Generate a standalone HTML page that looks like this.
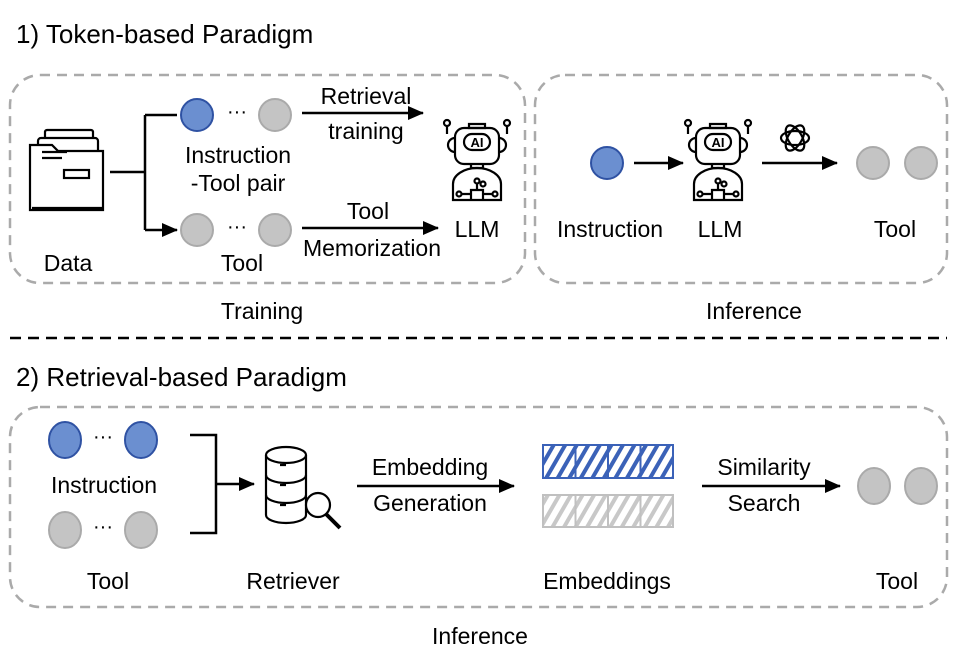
<!DOCTYPE html>
<html><head><meta charset="utf-8"><style>
html,body{margin:0;padding:0;background:#fff;}
svg{display:block;}
text{font-family:"Liberation Sans",sans-serif;fill:#000;}
</style></head><body>
<svg width="957" height="657" viewBox="0 0 957 657" xmlns="http://www.w3.org/2000/svg">
<defs>
<marker id="ah" markerWidth="16" markerHeight="14" refX="15" refY="7" orient="auto" markerUnits="userSpaceOnUse" viewBox="0 0 16 14"><path d="M0,0 L16,7 L0,14 z" fill="#000"/></marker>
<g id="robot" fill="none" stroke="#000" stroke-width="2.2">
  <rect x="-22" y="8" width="44" height="36" rx="9"/>
  <rect x="-13" y="14" width="26" height="16" rx="8"/>
  <path d="M-8,4 h16 v4 h-16z"/>
  <circle cx="-30" cy="3" r="3"/><circle cx="30" cy="3" r="3"/>
  <path d="M-30,6 v8 M30,6 v8"/>
  <path d="M-22,18 a6,6 0 0 0 0,14 M22,18 a6,6 0 0 1 0,14"/>
  <path d="M-6,44 v4 h12 v-4"/>
  <path d="M-24,80 v-16 a24,16 0 0 1 48,0 v16 z"/>
  <path d="M-6,80 v-10 h12 v10 M0,70 v-6 M-6,74 h-10 M6,74 h10"/>
  <circle cx="0" cy="61" r="2.5"/><circle cx="-18" cy="74" r="2.5"/><circle cx="18" cy="74" r="2.5"/><circle cx="6" cy="64" r="2.5"/>
  <text x="0" y="27" font-size="13" text-anchor="middle" stroke="none" fill="#000" font-weight="bold">AI</text>
</g>
<pattern id="hb" width="10" height="10" patternUnits="userSpaceOnUse" patternTransform="rotate(30)"><rect width="10" height="10" fill="#fff"/><rect width="4" height="10" fill="#3b62b8"/></pattern>
<pattern id="hg" width="10" height="10" patternUnits="userSpaceOnUse" patternTransform="rotate(30)"><rect width="10" height="10" fill="#fff"/><rect width="4" height="10" fill="#c8c8c8"/></pattern>
</defs>

<text x="16" y="43" font-size="26">1) Token-based Paradigm</text>
<rect x="10" y="75" width="515" height="208" rx="30" fill="none" stroke="#aaa" stroke-width="2.5" stroke-dasharray="10,7"/>
<rect x="535" y="75" width="412" height="208" rx="30" fill="none" stroke="#aaa" stroke-width="2.5" stroke-dasharray="10,7"/>

<g fill="#fff" stroke="#000" stroke-width="2.2">
  <rect x="45" y="130" width="48" height="40" rx="2"/>
  <rect x="38" y="138" width="60" height="70" rx="3"/>
  <path d="M30,210 v-65 h22 l6,6 h45 v59 z"/>
  <path d="M32,208 h70"/>
  <rect x="64" y="170" width="25" height="8"/>
  <path d="M42,152 h25 M42,158 h20" fill="none"/>
</g>
<text x="68" y="271" font-size="23" text-anchor="middle">Data</text>
<path d="M110,172 H145 M145,115 V230" stroke="#000" stroke-width="2.5" fill="none"/>
<path d="M145,115 H177 M145,230 H177" stroke="#000" stroke-width="2.5" marker-end="url(#ah)"/>
<circle cx="197" cy="115" r="16" fill="#6b8fd0" stroke="#2f52a3" stroke-width="2"/>
<text x="237" y="118" font-size="20" text-anchor="middle">···</text>
<circle cx="275" cy="115" r="16" fill="#c4c4c4" stroke="#aaa" stroke-width="2"/>
<text x="238" y="163" font-size="23" text-anchor="middle">Instruction</text>
<text x="238" y="191" font-size="23" text-anchor="middle">-Tool pair</text>
<circle cx="197" cy="230" r="16" fill="#c4c4c4" stroke="#aaa" stroke-width="2"/>
<text x="237" y="233" font-size="20" text-anchor="middle">···</text>
<circle cx="275" cy="230" r="16" fill="#c4c4c4" stroke="#aaa" stroke-width="2"/>
<text x="242" y="271" font-size="23" text-anchor="middle">Tool</text>
<path d="M302,113 H423" stroke="#000" stroke-width="2.5" marker-end="url(#ah)"/>
<text x="366" y="104" font-size="23" text-anchor="middle">Retrieval</text>
<text x="366" y="139" font-size="23" text-anchor="middle">training</text>
<path d="M302,228 H438" stroke="#000" stroke-width="2.5" marker-end="url(#ah)"/>
<text x="368" y="219" font-size="23" text-anchor="middle">Tool</text>
<text x="372" y="256" font-size="23" text-anchor="middle">Memorization</text>
<use href="#robot" x="477" y="120"/>
<text x="477" y="237" font-size="23" text-anchor="middle">LLM</text>

<circle cx="607" cy="163" r="16" fill="#6b8fd0" stroke="#2f52a3" stroke-width="2"/>
<path d="M634,163 H683" stroke="#000" stroke-width="2.5" marker-end="url(#ah)"/>
<use href="#robot" x="718" y="120"/>
<text x="610" y="237" font-size="23" text-anchor="middle">Instruction</text>
<text x="720" y="237" font-size="23" text-anchor="middle">LLM</text>
<g fill="none" stroke="#000" stroke-width="2.2" transform="translate(795,138)">
  <ellipse rx="14" ry="7"/><ellipse rx="14" ry="7" transform="rotate(60)"/><ellipse rx="14" ry="7" transform="rotate(120)"/>
</g>
<path d="M762,163 H837" stroke="#000" stroke-width="2.5" marker-end="url(#ah)"/>
<circle cx="873" cy="163" r="16" fill="#c4c4c4" stroke="#aaa" stroke-width="2"/>
<circle cx="921" cy="163" r="16" fill="#c4c4c4" stroke="#aaa" stroke-width="2"/>
<text x="895" y="237" font-size="23" text-anchor="middle">Tool</text>

<text x="262" y="319" font-size="23" text-anchor="middle">Training</text>
<text x="754" y="319" font-size="23" text-anchor="middle">Inference</text>
<path d="M10,338 H947" stroke="#000" stroke-width="2.5" stroke-dasharray="11,7"/>

<text x="16" y="386" font-size="26">2) Retrieval-based Paradigm</text>
<rect x="10" y="407" width="937" height="200" rx="30" fill="none" stroke="#aaa" stroke-width="2.5" stroke-dasharray="10,7"/>
<ellipse cx="65" cy="440" rx="16" ry="18" fill="#6b8fd0" stroke="#2f52a3" stroke-width="2"/>
<text x="103" y="443" font-size="20" text-anchor="middle">···</text>
<ellipse cx="141" cy="440" rx="16" ry="18" fill="#6b8fd0" stroke="#2f52a3" stroke-width="2"/>
<text x="104" y="493" font-size="23" text-anchor="middle">Instruction</text>
<ellipse cx="65" cy="530" rx="16" ry="18" fill="#c4c4c4" stroke="#aaa" stroke-width="2"/>
<text x="103" y="533" font-size="20" text-anchor="middle">···</text>
<ellipse cx="141" cy="530" rx="16" ry="18" fill="#c4c4c4" stroke="#aaa" stroke-width="2"/>
<text x="108" y="589" font-size="23" text-anchor="middle">Tool</text>
<path d="M190,435 H216 V533 H190" stroke="#000" stroke-width="2.5" fill="none"/>
<path d="M216,484 H254" stroke="#000" stroke-width="2.5" marker-end="url(#ah)"/>
<g fill="#fff" stroke="#000" stroke-width="2.2">
  <path d="M266,455 v60 a20,8 0 0 0 40,0 v-60"/>
  <ellipse cx="286" cy="455" rx="20" ry="8"/>
  <path d="M266,475 a20,8 0 0 0 40,0 M266,495 a20,8 0 0 0 40,0" fill="none"/>
  <circle cx="318" cy="505" r="12"/>
  <path d="M326,514 l14,14" stroke-width="4"/>
  <path d="M280,485 h6 M280,505 h6 M280,465 h6"/>
</g>
<text x="293" y="589" font-size="23" text-anchor="middle">Retriever</text>
<path d="M357,486 H514" stroke="#000" stroke-width="2.5" marker-end="url(#ah)"/>
<text x="430" y="475" font-size="23" text-anchor="middle">Embedding</text>
<text x="430" y="511" font-size="23" text-anchor="middle">Generation</text>
<rect x="543" y="445" width="130" height="33" fill="url(#hb)" stroke="#3b62b8" stroke-width="2"/>
<path d="M575.5,445 v33 M608,445 v33 M640.5,445 v33" stroke="#3b62b8" stroke-width="2"/>
<rect x="543" y="495" width="130" height="32" fill="url(#hg)" stroke="#c0c0c0" stroke-width="2"/>
<path d="M575.5,495 v32 M608,495 v32 M640.5,495 v32" stroke="#c0c0c0" stroke-width="2"/>
<text x="607" y="589" font-size="23" text-anchor="middle">Embeddings</text>
<path d="M702,486 H840" stroke="#000" stroke-width="2.5" marker-end="url(#ah)"/>
<text x="764" y="475" font-size="23" text-anchor="middle">Similarity</text>
<text x="764" y="511" font-size="23" text-anchor="middle">Search</text>
<ellipse cx="874" cy="486" rx="16" ry="18" fill="#c4c4c4" stroke="#aaa" stroke-width="2"/>
<ellipse cx="921" cy="486" rx="16" ry="18" fill="#c4c4c4" stroke="#aaa" stroke-width="2"/>
<text x="897" y="589" font-size="23" text-anchor="middle">Tool</text>
<text x="480" y="644" font-size="23" text-anchor="middle">Inference</text>
</svg>
</body></html>
